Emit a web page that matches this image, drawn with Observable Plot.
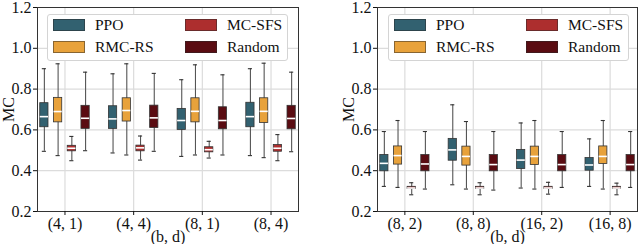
<!DOCTYPE html>
<html><head><meta charset="utf-8">
<script src="https://cdn.jsdelivr.net/npm/d3@7"></script>
<script src="https://cdn.jsdelivr.net/npm/@observablehq/plot@0.6"></script>
<style>
body{margin:0;background:#fff;}
#wrap{position:relative;width:640px;height:244px;font-family:"Liberation Serif","Times New Roman",serif;overflow:hidden;}
.panel{position:absolute;top:0;width:320px;height:244px;}
.panel svg{position:absolute;left:0;top:0;}
.legend{position:absolute;top:14px;width:241px;height:47px;background:#fff;border:1px solid #d4d4d4;border-radius:3px;box-sizing:border-box;}
.sw{position:absolute;width:32px;height:12px;box-sizing:border-box;border:0.8px solid rgba(40,40,40,0.5);}
.lt{position:absolute;font-size:15.5px;line-height:16px;color:#111;white-space:nowrap;}
</style></head><body><div id="wrap"></div>
<script>
const series = ["PPO", "RMC-RS", "MC-SFS", "Random"];
const colors = ["#326170", "#e8a23b", "#ad2e2e", "#5a0c12"];
const leftGroups = ["(4, 1)", "(4, 4)", "(8, 1)", "(8, 4)"];
const rightGroups = ["(8, 2)", "(8, 8)", "(16, 2)", "(16, 8)"];
const yTicks = [0.2, 0.4, 0.6, 0.8, 1.0, 1.2];
// per group: [whisker low, q1, median, q3, whisker high]
const leftPPO    = [[0.495,0.613,0.665,0.731,0.900],[0.487,0.605,0.654,0.716,0.875],[0.470,0.600,0.646,0.703,0.846],[0.474,0.613,0.665,0.733,0.900]];
const leftRMCRS  = [[0.474,0.637,0.690,0.757,0.924],[0.477,0.641,0.695,0.755,0.924],[0.477,0.637,0.691,0.755,0.919],[0.464,0.634,0.691,0.755,0.927]];
const leftMCSFS  = [[0.449,0.495,0.510,0.522,0.568],[0.452,0.495,0.512,0.523,0.570],[0.462,0.490,0.503,0.515,0.544],[0.449,0.493,0.510,0.526,0.577]];
const leftRandom = [[0.498,0.605,0.657,0.718,0.883],[0.495,0.609,0.659,0.719,0.877],[0.477,0.603,0.646,0.711,0.870],[0.493,0.603,0.656,0.718,0.883]];
const rightPPO    = [[0.323,0.397,0.436,0.477,0.592],[0.331,0.449,0.502,0.556,0.723],[0.315,0.408,0.452,0.502,0.634],[0.323,0.400,0.428,0.462,0.556]];
const rightRMCRS  = [[0.318,0.430,0.474,0.519,0.646],[0.310,0.425,0.470,0.518,0.641],[0.310,0.428,0.470,0.518,0.646],[0.310,0.433,0.470,0.519,0.646]];
const rightMCSFS  = [[0.282,0.310,0.315,0.321,0.341],[0.282,0.310,0.315,0.321,0.341],[0.285,0.310,0.315,0.321,0.343],[0.282,0.310,0.315,0.321,0.339]];
const rightRandom = [[0.310,0.397,0.433,0.477,0.592],[0.305,0.397,0.430,0.477,0.592],[0.318,0.397,0.430,0.477,0.592],[0.318,0.397,0.430,0.477,0.592]];

const offsets = [-0.3, -0.1, 0.1, 0.3];
const bw = 0.12;

function build(stats) {
  const rows = [];
  stats.forEach((arr, s) => arr.forEach(([lo, q1, med, q3, hi], g) =>
    rows.push({g, s, series: series[s], lo, q1, med, q3, hi})));
  return rows;
}
const pos = d => d.g + offsets[d.s];

function panel(groups, rows, marginLeft, marginRight) {
  const idx = d3.range(groups.length);
  return Plot.plot({
    width: 320, height: 244,
    marginTop: 7, marginBottom: 33, marginLeft, marginRight,
    style: {fontFamily: '"Liberation Serif","Times New Roman",serif', fontSize: "16px", color: "#111", background: "transparent", overflow: "visible"},
    x: {domain: [-0.4, 3.4]},
    y: {domain: [0.2, 1.2]},
    color: {domain: series, range: colors},
    marks: [
      Plot.gridY(yTicks.slice(1, -1), {stroke: "#dcdcdc", strokeOpacity: 1, strokeWidth: 1.2}),
      Plot.gridX(idx, {stroke: "#dcdcdc", strokeOpacity: 1, strokeWidth: 1.2}),
      Plot.ruleX(rows, {x: pos, y1: "lo", y2: "hi", stroke: "#555", strokeWidth: 1.1}),
      Plot.ruleY(rows, {y: "lo", x1: d => pos(d) - bw / 4, x2: d => pos(d) + bw / 4, stroke: "#333", strokeWidth: 1.1}),
      Plot.ruleY(rows, {y: "hi", x1: d => pos(d) - bw / 4, x2: d => pos(d) + bw / 4, stroke: "#333", strokeWidth: 1.1}),
      Plot.rect(rows, {x1: d => pos(d) - bw / 2, x2: d => pos(d) + bw / 2, y1: "q1", y2: "q3", fill: "series", stroke: "#333", strokeWidth: 0.8}),
      Plot.ruleY(rows, {y: "med", x1: d => pos(d) - bw / 2, x2: d => pos(d) + bw / 2, stroke: "white", strokeWidth: 1.6}),
      Plot.frame({stroke: "#333", strokeWidth: 1}),
      Plot.axisY(yTicks, {tickFormat: d3.format(".1f"), tickSize: 4, tickPadding: 2, fontSize: 16,
        label: "MC", labelAnchor: "center", labelArrow: "none", labelOffset: 35}),
      Plot.axisX(idx, {tickFormat: i => groups[i], tickSize: 4, tickPadding: 2, fontSize: 16,
        label: "(b, d)", labelAnchor: "center", labelArrow: "none", labelOffset: 30.5})
    ]
  });
}

function legend(left) {
  const box = document.createElement("div");
  box.className = "legend";
  box.style.left = left + "px";
  series.forEach((name, i) => {
    const col = i < 2 ? 0 : 1, row = i % 2;
    const sw = document.createElement("div");
    sw.className = "sw";
    sw.style.background = colors[i];
    sw.style.left = (5 + col * 132) + "px";
    sw.style.top = (4 + row * 22) + "px";
    const t = document.createElement("div");
    t.className = "lt";
    t.textContent = name;
    t.style.left = (47 + col * 132) + "px";
    t.style.top = (2 + row * 22) + "px";
    box.appendChild(sw); box.appendChild(t);
  });
  return box;
}

const wrap = document.getElementById("wrap");
const p1 = document.createElement("div"); p1.className = "panel"; p1.style.left = "0px";
p1.appendChild(panel(leftGroups, build([leftPPO, leftRMCRS, leftMCSFS, leftRandom]), 37, 22));
p1.appendChild(legend(47));
const p2 = document.createElement("div"); p2.className = "panel"; p2.style.left = "320px";
p2.appendChild(panel(rightGroups, build([rightPPO, rightRMCRS, rightMCSFS, rightRandom]), 57, 3));
p2.appendChild(legend(68));
wrap.appendChild(p1); wrap.appendChild(p2);
</script></body></html>
